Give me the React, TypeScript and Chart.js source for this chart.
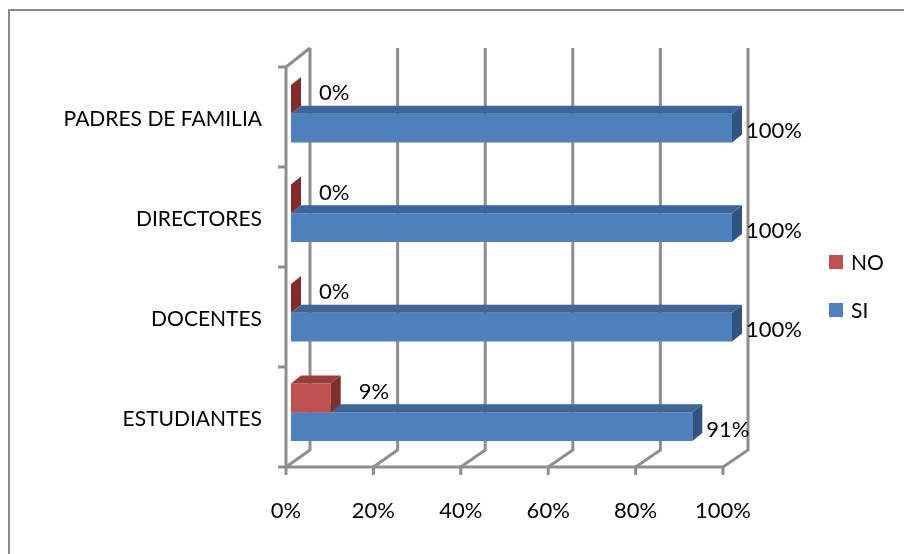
import React, { useEffect, useRef } from "react";
import { Chart, registerables } from "chart.js";

Chart.register(...registerables);

// ---- data ----
const categories = ["PADRES DE FAMILIA", "DIRECTORES", "DOCENTES", "ESTUDIANTES"];
const seriesNames = ["NO", "SI"];
const noValues = [0, 0, 0, 9];
const siValues = [100, 100, 100, 91];
const axisMax = 100;
const axisStep = 20;

// ---- styles ----
const FRONT = ["#C0504D", "#4F81BD"];
const TOPF = ["#9A3E3B", "#3D6696"];
const SIDE = ["#7F2E2C", "#2F5583"];
const GRID = "#8E8E8E";
const FONT_FAMILY = 'Lato, "Open Sans", sans-serif';
const FONT = `21px ${FONT_FAMILY}`;
const FONT_BIG = `22px ${FONT_FAMILY}`;
const DX = 10;
const DY = -8;

function planes(chart: any) {
  const { left, right, top, bottom } = chart.chartArea;
  const w = right - left;
  const h = bottom - top;
  return {
    fx: (px: number) => 286 + ((px - left) * 437) / w,
    bx: (px: number) => 310 + ((px - left) * 438) / w,
    fy: (py: number) => 67 + ((py - top) * 400) / h,
    by: (py: number) => 48 + ((py - top) * 402) / h,
  };
}

const threeD = {
  id: "threeD",
  beforeDatasetsDraw(chart: any) {
    const ctx = chart.ctx;
    const xs = chart.scales.x;
    const ys = chart.scales.y;
    const { fx, bx, fy, by } = planes(chart);
    const { top, bottom } = chart.chartArea;
    ctx.save();
    ctx.strokeStyle = "#8A8A8A";
    ctx.lineWidth = 2;
    ctx.beginPath();
    ctx.moveTo(9, 554);
    ctx.lineTo(9, 10);
    ctx.lineTo(904, 10);
    ctx.stroke();

    ctx.strokeStyle = GRID;
    ctx.lineWidth = 3;
    ctx.lineCap = "butt";
    const ticks = xs.ticks.map((t: any) => t.value);
    ticks.forEach((v: number) => {
      const px = xs.getPixelForValue(v);
      ctx.beginPath();
      ctx.moveTo(bx(px), by(top));
      ctx.lineTo(bx(px), by(bottom));
      ctx.lineTo(fx(px), fy(bottom));
      ctx.stroke();
      ctx.beginPath();
      ctx.moveTo(fx(px), fy(bottom));
      ctx.lineTo(fx(px), fy(bottom) + 8);
      ctx.stroke();
    });
    const x0 = xs.getPixelForValue(0);
    const x1 = xs.getPixelForValue(axisMax);
    ctx.beginPath();
    ctx.moveTo(fx(x0), fy(bottom));
    ctx.lineTo(fx(x1), fy(bottom));
    ctx.stroke();
    ctx.beginPath();
    ctx.moveTo(fx(x0), fy(bottom));
    ctx.lineTo(fx(x0), fy(top));
    ctx.lineTo(bx(x0), by(top));
    ctx.stroke();
    const n = categories.length;
    for (let i = 0; i <= n; i++) {
      const py = top + ((bottom - top) * i) / n;
      ctx.beginPath();
      ctx.moveTo(fx(x0) - 8, fy(py));
      ctx.lineTo(fx(x0), fy(py));
      ctx.stroke();
    }

    ctx.fillStyle = "#000";
    ctx.font = FONT_BIG;
    ctx.textAlign = "center";
    ctx.textBaseline = "middle";
    ticks.forEach((v: number) => {
      const px = xs.getPixelForValue(v);
      ctx.fillText(`${v}%`, fx(px), 511);
    });
    ctx.font = FONT;
    ctx.textAlign = "right";
    categories.forEach((c, i) => {
      const py = ys.getPixelForValue(i);
      ctx.fillText(c, 262, fy(py) + 2);
    });
    ctx.restore();
  },
  afterDatasetDraw(chart: any, args: any) {
    const ctx = chart.ctx;
    const di = args.index;
    const meta = args.meta;
    ctx.save();
    meta.data.forEach((el: any) => {
      const p = el.getProps(["x", "y", "base", "height"], true);
      const l = Math.min(p.base, p.x);
      const r = Math.max(p.base, p.x);
      const t = p.y - p.height / 2;
      const b = p.y + p.height / 2;
      ctx.fillStyle = TOPF[di];
      ctx.beginPath();
      ctx.moveTo(l, t);
      ctx.lineTo(r, t);
      ctx.lineTo(r + DX, t + DY);
      ctx.lineTo(l + DX, t + DY);
      ctx.closePath();
      ctx.fill();
      ctx.fillStyle = SIDE[di];
      ctx.beginPath();
      ctx.moveTo(r, t);
      ctx.lineTo(r + DX, t + DY);
      ctx.lineTo(r + DX, b + DY);
      ctx.lineTo(r, b);
      ctx.closePath();
      ctx.fill();
    });
    ctx.restore();
  },
  afterDatasetsDraw(chart: any) {
    const ctx = chart.ctx;
    ctx.save();
    ctx.fillStyle = "#000";
    ctx.font = FONT_BIG;
    ctx.textAlign = "left";
    ctx.textBaseline = "middle";
    chart.data.datasets.forEach((ds: any, di: number) => {
      const meta = chart.getDatasetMeta(di);
      meta.data.forEach((el: any, i: number) => {
        const p = el.getProps(["x", "y"], true);
        const txt = `${ds.data[i]}%`;
        if (di === 0) ctx.fillText(txt, p.x + 28, p.y - 6);
        else ctx.fillText(txt, p.x + 14, p.y + 3);
      });
    });
    ctx.font = FONT;
    seriesNames.forEach((name, i) => {
      const cy = 262 + i * 48;
      ctx.fillStyle = FRONT[i];
      ctx.fillRect(829, cy - 7, 14, 14);
      ctx.fillStyle = "#000";
      ctx.fillText(name, 851, cy + 1);
    });
    ctx.restore();
  },
};

export default function App() {
  const ref = useRef<HTMLCanvasElement>(null);
  useEffect(() => {
    if (!ref.current) return;
    const chart = new Chart(ref.current, {
      type: "bar",
      data: {
        labels: categories,
        datasets: [
          { label: seriesNames[0], data: noValues, backgroundColor: FRONT[0], borderWidth: 0 },
          { label: seriesNames[1], data: siValues, backgroundColor: FRONT[1], borderWidth: 0 },
        ],
      },
      options: {
        indexAxis: "y",
        responsive: false,
        animation: false,
        events: [],
        devicePixelRatio: 1,
        layout: { padding: { left: 291, right: 904 - 732, top: 64, bottom: 554 - 462 } },
        datasets: { bar: { categoryPercentage: 0.58, barPercentage: 1 } },
        scales: {
          x: { display: false, min: 0, max: axisMax, ticks: { stepSize: axisStep } },
          y: { display: false },
        },
        plugins: { legend: { display: false }, tooltip: { enabled: false } },
      },
      plugins: [threeD],
    });
    return () => chart.destroy();
  }, []);
  return (
    <div style={{ position: "absolute", left: 0, top: 0, width: 904, height: 554, background: "#fff" }}>
      <canvas ref={ref} width={904} height={554} style={{ display: "block" }} />
    </div>
  );
}
